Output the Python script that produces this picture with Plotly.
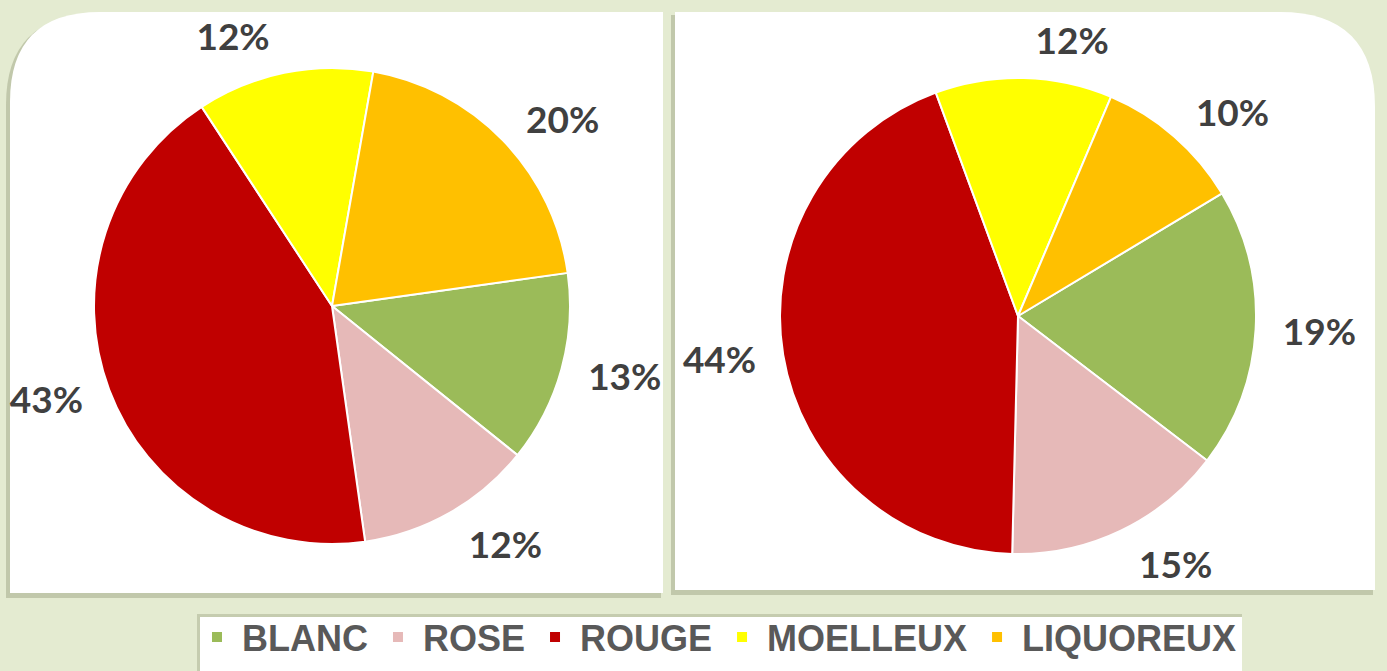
import plotly.graph_objects as go

# ---- data ----
categories = ["BLANC", "ROSE", "ROUGE", "MOELLEUX", "LIQUOREUX"]
left_values = [13, 12, 43, 12, 20]
right_values = [19, 15, 44, 12, 10]
colors = ["#9bbb59", "#e6b9b8", "#c00000", "#ffff00", "#ffc000"]

W, H = 1387, 671


def fx(x):
    return x / W


def fy(y):
    return 1 - y / H


def dom(cx, cy, r):
    return dict(x=[fx(cx - r), fx(cx + r)], y=[fy(cy + r), fy(cy - r)])


label_font = dict(family="Lato, Open Sans, sans-serif", size=37, color="#404040", weight="bold")

fig = go.Figure()

pies = [
    (left_values, 332, 306, 82),
    (right_values, 1018, 316, 59),
]
for i, (vals, cx, cy, rot) in enumerate(pies):
    # visible pie
    fig.add_trace(go.Pie(
        labels=categories, values=vals, sort=False, direction="clockwise",
        rotation=rot, domain=dom(cx, cy, 238),
        marker=dict(colors=colors, line=dict(color="white", width=2)),
        textinfo="none", showlegend=(i == 0), hoverinfo="label+percent",
    ))
    # transparent pie carrying the outer percentage labels
    fig.add_trace(go.Pie(
        labels=categories, values=vals, sort=False, direction="clockwise",
        rotation=rot, domain=dom(cx, cy, 254),
        marker=dict(colors=["rgba(0,0,0,0)"] * len(vals), line=dict(width=0)),
        texttemplate="%{value:.0f}%", textposition="outside",
        outsidetextfont=label_font, showlegend=False, hoverinfo="skip",
    ))

# ---- decorative panels ----
def panel_path(x0, y0, x1, y1, r, corner):
    if corner == "tl":
        return (f"M{fx(x0)},{fy(y1)} L{fx(x0)},{fy(y0 + r)} "
                f"Q{fx(x0)},{fy(y0)} {fx(x0 + r)},{fy(y0)} "
                f"L{fx(x1)},{fy(y0)} L{fx(x1)},{fy(y1)} Z")
    return (f"M{fx(x0)},{fy(y1)} L{fx(x0)},{fy(y0)} "
            f"L{fx(x1 - r)},{fy(y0)} Q{fx(x1)},{fy(y0)} {fx(x1)},{fy(y0 + r)} "
            f"L{fx(x1)},{fy(y1)} Z")


shapes = []
panels = [(10, 12, 663, 593, 90, "tl"), (675, 12, 1375, 590, 95, "tr")]
for (x0, y0, x1, y1, r, c) in panels:
    shapes.append(dict(type="path", xref="paper", yref="paper", layer="below",
                       path=panel_path(x0 - 4, y0 + 3, x1 - 2, y1 + 5, r, c),
                       fillcolor="rgba(150,158,125,0.45)", line=dict(width=0)))
    shapes.append(dict(type="path", xref="paper", yref="paper", layer="below",
                       path=panel_path(x0, y0, x1, y1, r, c),
                       fillcolor="white", line=dict(width=0)))
# legend box
shapes.append(dict(type="rect", xref="paper", yref="paper", layer="below",
                   x0=fx(197), x1=fx(1242), y0=fy(674), y1=fy(614),
                   fillcolor="rgba(150,158,125,0.4)", line=dict(width=0)))
shapes.append(dict(type="rect", xref="paper", yref="paper", layer="below",
                   x0=fx(200), x1=fx(1242), y0=fy(674), y1=fy(617),
                   fillcolor="white", line=dict(width=0)))

fig.update_layout(
    width=W, height=H,
    margin=dict(l=0, r=0, t=0, b=0),
    paper_bgcolor="#e4ebd1",
    plot_bgcolor="#e4ebd1",
    shapes=shapes,
    legend=dict(orientation="h", x=fx(192), xanchor="left", y=fy(637), yanchor="middle",
                bgcolor="rgba(0,0,0,0)", itemwidth=40,
                font=dict(family="Liberation Sans, Arial, sans-serif", size=36,
                          color="#595959", weight="bold"),
                traceorder="normal"),
)

fig.write_html("out.html", config={"displayModeBar": False},
               post_script="document.body.style.margin='0';document.body.style.overflow='hidden';")
